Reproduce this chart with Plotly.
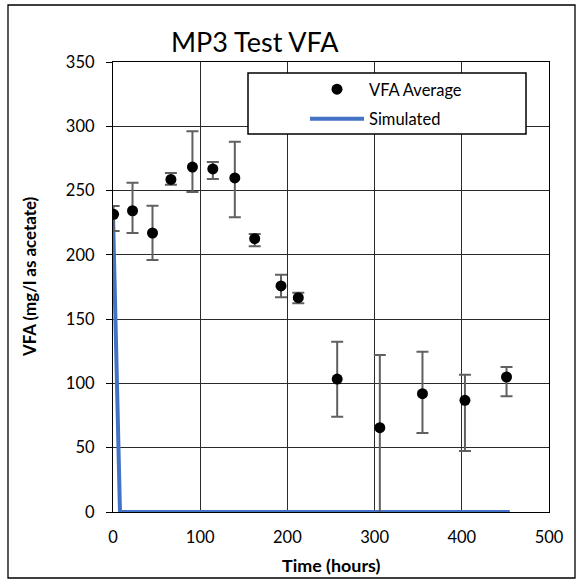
import plotly.graph_objects as go

# Measured VFA (mg/l as acetate) with upper / lower error extents
time_h = [0.7, 22.4, 45.3, 66.4, 91.1, 114.5, 139.7, 162.5, 192.7, 212.5, 257.1, 306.0, 354.9, 403.6, 451.3]
vfa_avg = [231.5, 234.3, 217.0, 258.7, 268.3, 266.8, 259.8, 212.6, 175.8, 166.7, 103.4, 65.6, 92.0, 86.9, 105.0]
err_plus = [6.5, 21.8, 21.2, 4.9, 27.8, 5.4, 28.2, 3.6, 8.7, 3.9, 29.0, 56.5, 32.7, 19.9, 7.8]
err_minus = [13.0, 17.3, 21.0, 4.1, 19.4, 7.8, 30.6, 6.0, 8.7, 4.3, 29.3, 70.0, 30.6, 39.5, 15.0]

# Simulated VFA
sim_time = [0, 8, 455]
sim_vfa = [231, 0, 0]

x_ticks = [0, 100, 200, 300, 400, 500]
y_ticks = [0, 50, 100, 150, 200, 250, 300, 350]

W, H = 576, 580
L, R, T, B = 113, 27, 62, 68
PW, PH = W - L - R, H - T - B


def px(xp):
    return (xp - L) / PW


def py(yp):
    return (H - B - yp) / PH


FONT = "Lato"
fig = go.Figure()

fig.add_trace(go.Scatter(
    x=sim_time, y=sim_vfa, mode="lines", name="Simulated",
    line=dict(color="#4472C4", width=4), legendrank=2, legendgroup="b",
))
fig.add_trace(go.Scatter(
    x=time_h, y=vfa_avg, mode="markers", name="VFA Average",
    marker=dict(color="black", size=11),
    error_y=dict(type="data", symmetric=False, array=err_plus, arrayminus=err_minus,
                 color="#606060", thickness=2, width=6),
    legendrank=1, legendgroup="a",
))

axis_common = dict(
    showgrid=True, gridcolor="#2a2a2a", gridwidth=1,
    showline=True, linecolor="black", linewidth=1.3, mirror=True,
    zeroline=False, tickfont=dict(family=FONT, size=16.5, color="black"),
)
fig.update_xaxes(range=[0, 500], tickvals=x_ticks, ticks="", ticklabelstandoff=10, **axis_common)
fig.update_yaxes(range=[0, 350], tickvals=y_ticks, ticks="outside", ticklen=6,
                 tickcolor="black", ticklabelstandoff=8, **axis_common)

shapes = [
    # outer chart border
    dict(type="rect", xref="paper", yref="paper", x0=px(8), x1=px(575), y0=py(578), y1=py(5),
         line=dict(color="black", width=1.3), fillcolor="rgba(0,0,0,0)", layer="above"),
    # legend frame
    dict(type="rect", xref="paper", yref="paper", x0=px(248), x1=px(526), y0=py(134), y1=py(73),
         line=dict(color="black", width=1.5), fillcolor="white", layer="above"),
]

annotations = [
    dict(text="MP3 Test VFA", x=px(255), y=py(41), xref="paper", yref="paper",
         showarrow=False, xanchor="center", yanchor="middle",
         font=dict(family=FONT, size=27, color="black")),
    dict(text="<b>Time (hours)</b>", x=px(331), y=py(565), xref="paper", yref="paper",
         showarrow=False, xanchor="center", yanchor="middle",
         font=dict(family=FONT, size=17.9, color="black")),
    dict(text="<b>VFA (mg/l as acetate)</b>", x=px(29), y=py(277), xref="paper", yref="paper",
         showarrow=False, xanchor="center", yanchor="middle", textangle=-90,
         font=dict(family=FONT, size=16.9, color="black")),
]

fig.update_layout(
    width=W, height=H, autosize=False,
    margin=dict(l=L, r=R, t=T, b=B, pad=0),
    paper_bgcolor="white", plot_bgcolor="white",
    shapes=shapes, annotations=annotations,
    showlegend=True,
    legend=dict(x=px(305), y=py(72), xanchor="left", yanchor="top",
                bgcolor="rgba(0,0,0,0)", borderwidth=0,
                font=dict(family=FONT, size=16.5, color="black"),
                itemwidth=54, tracegroupgap=5),
)

fig.write_html("out.html")
